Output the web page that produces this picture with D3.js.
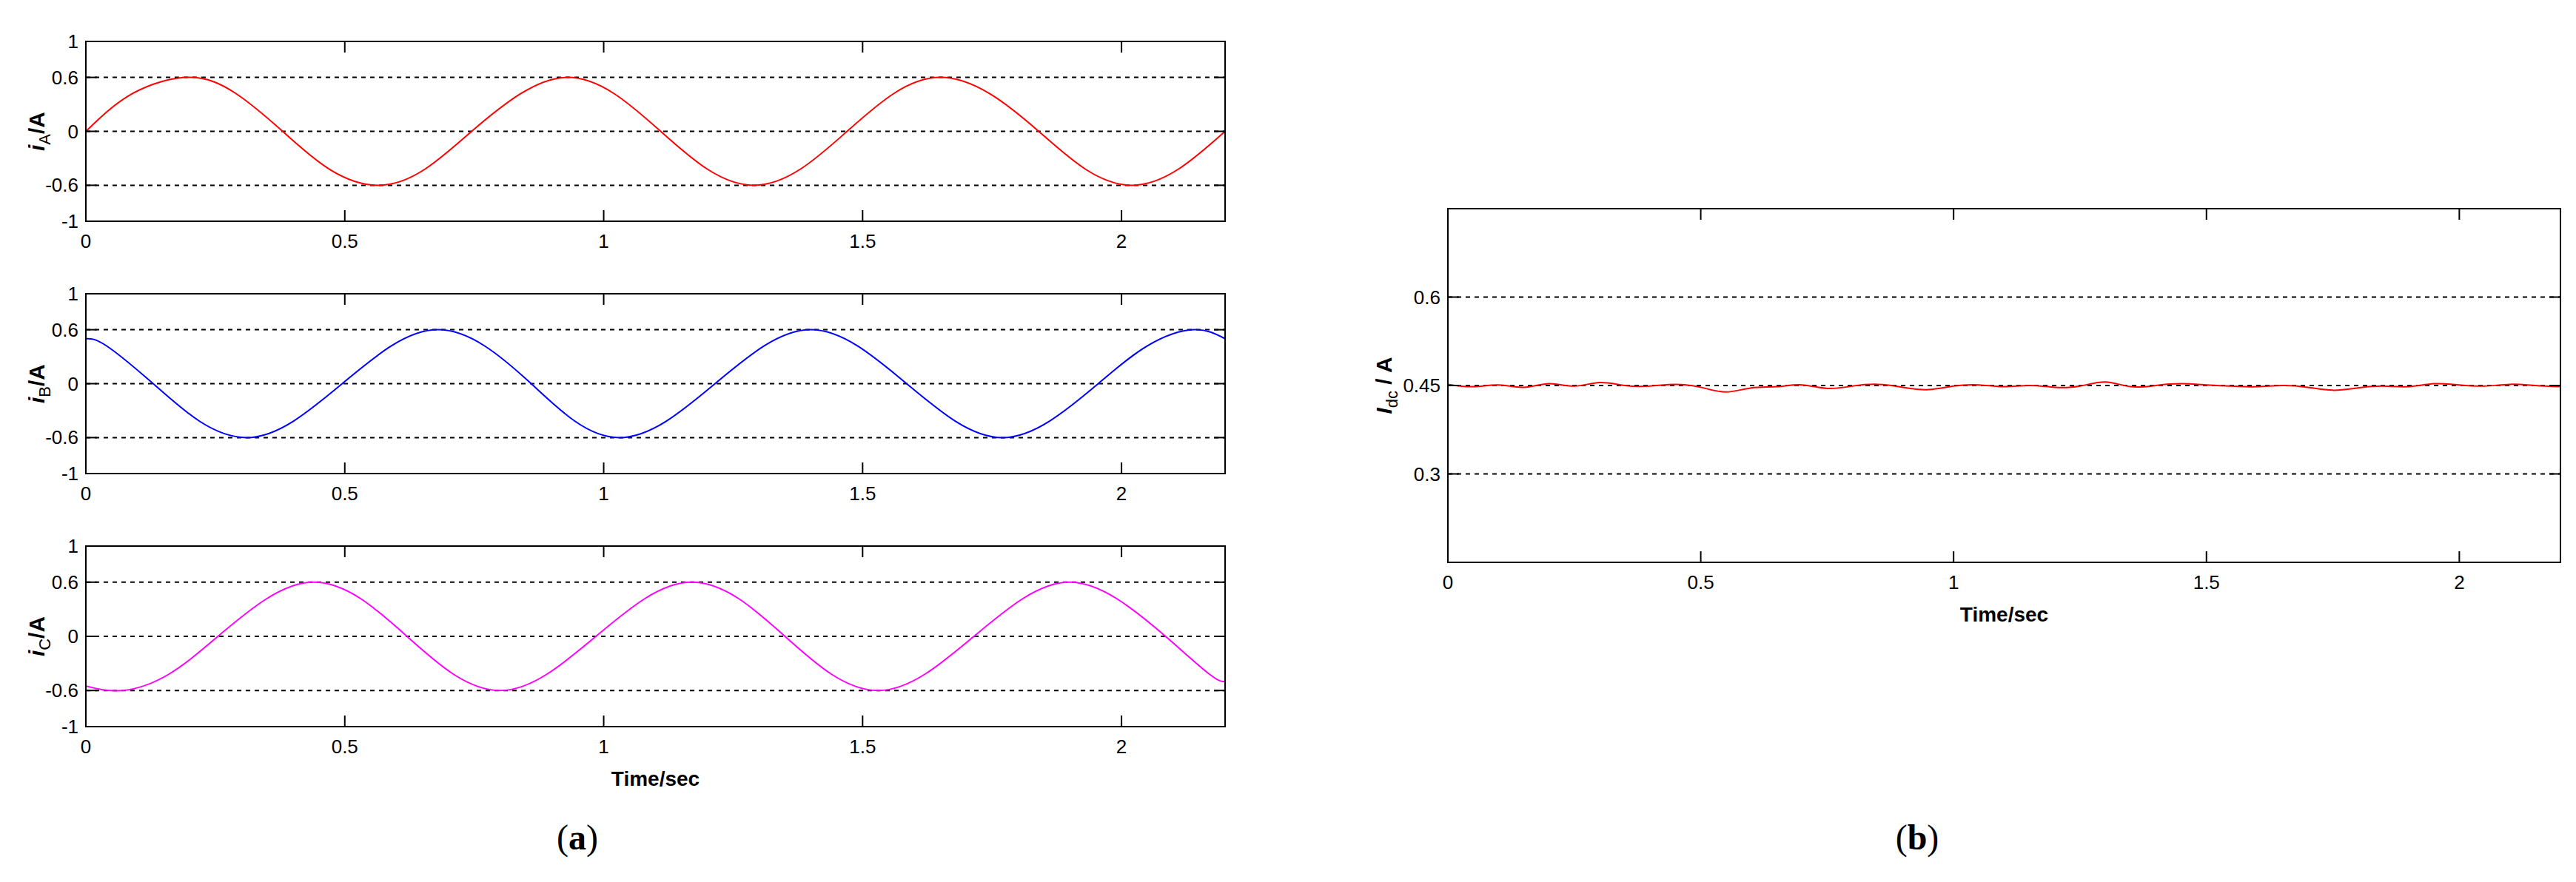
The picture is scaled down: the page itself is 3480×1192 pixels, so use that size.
<!DOCTYPE html>
<html><head><meta charset="utf-8">
<script src="https://cdn.jsdelivr.net/npm/d3@7"></script>
<style>body{margin:0;background:#fff}svg{display:block}</style>
</head><body>
<svg id="c" width="3480" height="1192"></svg>
<script>
// phase currents, [time, value]
const iA = [[0,0],[0.09,0.42],[0.2,0.6],[0.29,0.42],[0.38,0],[0.47,-0.42],[0.565,-0.6],[0.655,-0.42],[0.745,0],[0.84,0.42],[0.93,0.6],[1.02,0.42],[1.11,0],[1.2,-0.42],[1.29,-0.6],[1.38,-0.42],[1.47,0],[1.56,0.42],[1.65,0.6],[1.745,0.42],[1.84,0],[1.93,-0.42],[2.02,-0.6],[2.11,-0.42],[2.2,0]];
const iB = [[0,0.5],[0.04,0.42],[0.13,0],[0.22,-0.42],[0.31,-0.6],[0.4,-0.42],[0.495,0],[0.59,0.42],[0.68,0.6],[0.77,0.42],[0.86,0],[0.945,-0.42],[1.03,-0.6],[1.12,-0.42],[1.215,0],[1.31,0.42],[1.4,0.6],[1.49,0.42],[1.585,0],[1.68,-0.42],[1.77,-0.6],[1.86,-0.42],[1.955,0],[2.05,0.42],[2.14,0.6],[2.2,0.5]];
const iC = [[0,-0.55],[0.07,-0.6],[0.16,-0.42],[0.255,0],[0.35,0.42],[0.44,0.6],[0.53,0.42],[0.62,0],[0.71,-0.42],[0.8,-0.6],[0.89,-0.42],[0.985,0],[1.08,0.42],[1.17,0.6],[1.26,0.42],[1.35,0],[1.44,-0.42],[1.53,-0.6],[1.62,-0.42],[1.715,0],[1.81,0.42],[1.9,0.6],[1.99,0.42],[2.085,0],[2.17,-0.42],[2.2,-0.5]];
// dc current sampled every 0.05 s
const idcT = d3.range(45).map(i => +(i * 0.05).toFixed(2));
const idcV = [0.452,0.448,0.451,0.447,0.453,0.449,0.455,0.450,0.449,0.452,0.447,0.439,0.446,0.448,0.451,0.445,0.449,0.452,0.447,0.443,0.449,0.451,0.448,0.450,0.447,0.449,0.456,0.448,0.450,0.453,0.451,0.449,0.448,0.450,0.447,0.442,0.446,0.449,0.448,0.453,0.451,0.449,0.452,0.450,0.448];
const xTicks = [0,0.5,1,1.5,2];
const yTicksABC = [-1,-0.6,0,0.6,1];
const gridABC = [-0.6,0,0.6];
const yTicksDc = [0.3,0.45,0.6];

const svg = d3.select("#c");
const font = "Liberation Sans, Arial, sans-serif";

function panel(o){
  const x = d3.scaleLinear().domain([0,2.2]).range([o.x0,o.x1]);
  const y = d3.scaleLinear().domain(o.yd).range([o.y1,o.y0]);
  const g = svg.append("g");
  g.selectAll(".grid").data(o.grid).enter().append("line")
    .attr("x1",o.x0).attr("x2",o.x1).attr("y1",d=>y(d)).attr("y2",d=>y(d))
    .attr("stroke","#000").attr("stroke-width",2).attr("stroke-dasharray","6,6");
  g.append("path").datum(o.data)
    .attr("d", d3.line().x(d=>x(d[0])).y(d=>y(d[1])).curve(d3.curveNatural))
    .attr("fill","none").attr("stroke",o.color).attr("stroke-width",2);
  g.append("rect").attr("x",o.x0).attr("y",o.y0).attr("width",o.x1-o.x0).attr("height",o.y1-o.y0)
    .attr("fill","none").attr("stroke","#000").attr("stroke-width",2);
  // inward ticks
  const tl = 15;
  xTicks.forEach(t=>{
    g.append("line").attr("x1",x(t)).attr("x2",x(t)).attr("y1",o.y1).attr("y2",o.y1-tl).attr("stroke","#000").attr("stroke-width",2);
    g.append("line").attr("x1",x(t)).attr("x2",x(t)).attr("y1",o.y0).attr("y2",o.y0+tl).attr("stroke","#000").attr("stroke-width",2);
    g.append("text").attr("x",x(t)).attr("y",o.y1+36).attr("text-anchor","middle")
      .attr("font-family",font).attr("font-size",26).text(t);
  });
  o.yt.forEach(t=>{
    g.append("line").attr("x1",o.x0).attr("x2",o.x0+tl).attr("y1",y(t)).attr("y2",y(t)).attr("stroke","#000").attr("stroke-width",2);
    g.append("line").attr("x1",o.x1).attr("x2",o.x1-tl).attr("y1",y(t)).attr("y2",y(t)).attr("stroke","#000").attr("stroke-width",2);
    g.append("text").attr("x",o.x0-10).attr("y",y(t)+9).attr("text-anchor","end")
      .attr("font-family",font).attr("font-size",26).text(t);
  });
  const lab = g.append("text").attr("transform",`translate(${o.labX},${(o.y0+o.y1)/2}) rotate(-90)`)
    .attr("text-anchor","middle").attr("font-family",font).attr("font-size",30).attr("font-weight","bold");
  lab.append("tspan").attr("font-style","italic").text(o.lab[0]);
  lab.append("tspan").attr("font-size",22).attr("font-weight","normal").attr("dy",8).text(o.lab[1]);
  lab.append("tspan").attr("dy",-8).text(o.lab[2]);
  if(o.xlab) g.append("text").attr("x",(o.x0+o.x1)/2).attr("y",o.y1+80).attr("text-anchor","middle")
    .attr("font-family",font).attr("font-size",28).attr("font-weight","bold").text("Time/sec");
}

const pa = {x0:116,x1:1655,yd:[-1,1],yt:yTicksABC,grid:gridABC,labX:60};
panel({...pa,y0:56,y1:299,data:iA,color:"#ff0000",lab:["i","A","/A"]});
panel({...pa,y0:397,y1:640,data:iB,color:"#0000ff",lab:["i","B","/A"]});
panel({...pa,y0:738,y1:982,data:iC,color:"#ff00ff",lab:["i","C","/A"],xlab:true});
panel({x0:1956,x1:3459,y0:282,y1:760,yd:[0.15,0.75],yt:yTicksDc,grid:yTicksDc,labX:1880,
  data:idcT.map((t,i)=>[t,idcV[i]]),color:"#ff0000",lab:["I","dc"," / A"],xlab:true});

[["a",780],["b",2590]].forEach(([l,xp])=>{
  const t = svg.append("text").attr("x",xp).attr("y",1148).attr("text-anchor","middle")
    .attr("font-family","Liberation Serif, Times New Roman, serif").attr("font-size",48);
  t.append("tspan").text("(");
  t.append("tspan").attr("font-weight","bold").text(l);
  t.append("tspan").text(")");
});
</script>
</body></html>
